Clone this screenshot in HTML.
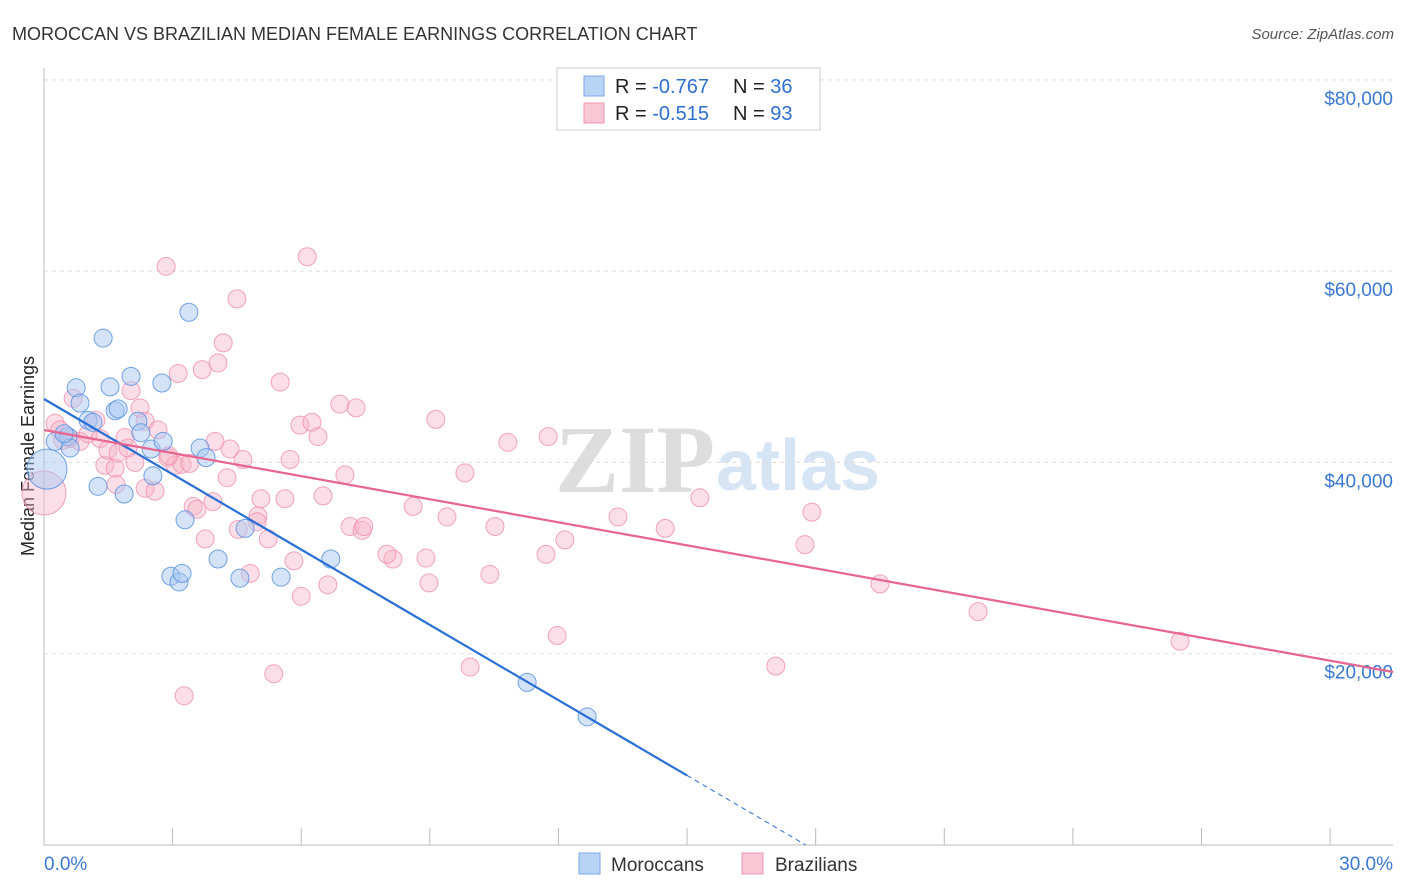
<!DOCTYPE html>
<html><head><meta charset="utf-8"><style>
body{margin:0;background:#fff;font-family:"Liberation Sans",sans-serif}
svg{display:block}
</style></head><body>
<svg id="c" width="1406" height="892">
<text x="12" y="40" font-size="18" fill="#333">MOROCCAN VS BRAZILIAN MEDIAN FEMALE EARNINGS CORRELATION CHART</text>
<text x="1394" y="39" font-size="15" fill="#555" font-style="italic" text-anchor="end">Source: ZipAtlas.com</text>
<text x="34" y="456" font-size="18" fill="#222" text-anchor="middle" transform="rotate(-90 34 456)">Median Female Earnings</text>
<text x="555" y="492" font-size="96" fill="#ddd" font-family="Liberation Serif" font-weight="bold">ZIP</text>
<text x="716" y="490" font-size="72" fill="#d6e4f4" font-weight="bold">atlas</text>
<g id="grid"></g><g id="pts"></g><g id="lines"></g>
<g>
<rect x="557" y="68" width="263" height="62" fill="#fff" stroke="#ccc"/>
<rect x="584" y="76" width="20" height="20" fill="#b9d3f5" stroke="#7aa7e6"/>
<rect x="584" y="103" width="20" height="20" fill="#f9c6d5" stroke="#ef95b3"/>
<text x="615" y="93" font-size="20" fill="#222">R = <tspan fill="#2f6fd0">-0.767</tspan><tspan x="733">N = </tspan><tspan fill="#2f6fd0">36</tspan></text>
<text x="615" y="120" font-size="20" fill="#222">R = <tspan fill="#2f6fd0">-0.515</tspan><tspan x="733">N = </tspan><tspan fill="#2f6fd0">93</tspan></text>
</g>
<g>
<rect x="579" y="853" width="21" height="21" fill="#b9d3f5" stroke="#7aa7e6"/>
<text x="611" y="871" font-size="19" fill="#333">Moroccans</text>
<rect x="742" y="853" width="21" height="21" fill="#f9c6d5" stroke="#ef95b3"/>
<text x="775" y="871" font-size="19" fill="#333">Brazilians</text>
</g>
</svg>
<script>
const yTicks=[20000,40000,60000,80000];
const yTickLabels=["$20,000","$40,000","$60,000","$80,000"];
const xTickVals=[0,3,6,9,12,15,18,21,24,27,30];
const moroccanX=[0.07,0.26,0.56,0.61,0.75,0.84,1.03,1.14,1.26,1.38,1.54,1.66,1.73,1.87,2.03,2.19,2.26,2.50,2.54,2.75,2.78,3.38,3.29,2.96,3.15,3.22,3.64,3.78,4.06,4.57,4.69,5.53,6.69,11.27,12.67,0.47];
const moroccanY=[39300,42200,42700,41500,47800,46200,44400,44200,37500,53000,47900,45400,45600,36700,49000,44300,43100,41400,38600,48300,42200,55700,34000,28100,27500,28400,41500,40500,29900,27900,33100,28000,29900,17000,13400,43000];
const brazilianX=[0.0,0.26,0.37,0.44,0.61,0.68,0.84,1.03,1.21,1.31,1.42,1.49,1.66,1.73,1.89,1.96,2.03,2.12,2.24,2.36,2.36,2.59,2.66,2.85,2.89,3.06,3.13,3.22,3.40,3.48,3.57,3.69,3.76,3.94,3.99,4.06,4.18,4.27,4.34,4.50,4.53,4.64,4.81,4.99,5.06,5.23,5.51,5.62,5.74,5.83,5.97,6.14,6.25,6.39,6.51,6.62,6.90,7.02,7.14,7.28,7.42,7.46,8.14,8.61,8.91,8.98,9.14,9.40,9.82,9.94,10.40,10.52,10.82,11.71,11.76,11.97,12.15,13.39,14.49,15.30,17.07,17.75,17.91,19.50,21.79,26.50,5.36,3.27,1.68,2.91,4.97,8.00,6.00];
const brazilianY=[36800,44100,43400,42300,42500,46700,42200,43000,44400,42500,39700,41300,39400,41000,42600,41500,47500,40000,45700,44300,37300,37000,43400,60500,40500,39700,49300,39800,39900,35400,35100,49700,32000,35900,42200,50400,52500,38400,41400,57100,33000,40300,28400,34400,36200,32000,48400,36200,40300,29700,43900,61500,44200,42700,36500,27200,46100,38700,33300,45700,32900,33300,29900,35400,30000,27400,44500,34300,38900,18600,28300,33300,42100,30400,42700,21900,31900,34300,33100,36300,18700,31400,34800,27300,24400,21300,17900,15600,37700,40700,33800,30400,26000];
const blueLine={intercept:46630,slope:-2624,solidEnd:15};
const pinkLine={intercept:43388,slope:-804,end:31.47};
const X=v=>44+v*42.87, Y=v=>845-v/104.55;
const NS="http://www.w3.org/2000/svg";
function mk(t,a,p){const e=document.createElementNS(NS,t);for(const k in a)e.setAttribute(k,a[k]);p.appendChild(e);return e;}
const g=document.getElementById('grid');
yTicks.forEach((v,i)=>{
 const l=mk('line',{x1:44,x2:1393,y1:Y(v),y2:Y(v),stroke:'#ddd','stroke-dasharray':'4,4'},g);
 
 
 const t=mk('text',{x:1393,y:Y(v)+25,'font-size':19,fill:'#3a78d4','text-anchor':'end'},g);
 t.textContent=yTickLabels[i];
 
 
});
const ax=mk('line',{x1:44,x2:1393,y1:845,y2:845,stroke:'#bbb'},g);


const ay=mk('line',{x1:44,x2:44,y1:68,y2:845,stroke:'#bbb'},g);


xTickVals.forEach(v=>{
 const l=mk('line',{x1:X(v),x2:X(v),y1:828,y2:845,stroke:'#bbb'},g);
 
 
});
[[0,'0.0%','start',44],[30,'30.0%','end',1393]].forEach(d=>{
 const t=mk('text',{x:d[3],y:870,'font-size':19,fill:'#3a78d4','text-anchor':d[2]},g);
 t.textContent=d[1];
 
 
});
const P=document.getElementById('pts');
brazilianX.forEach((x,i)=>{
 const r=i===0?22:9;
 const c=mk('circle',{cx:X(x),cy:Y(brazilianY[i]),r:r,fill:'#f7b6ca','fill-opacity':0.45,stroke:'#ef8fb0','stroke-opacity':0.8},P);
 
 
});
moroccanX.forEach((x,i)=>{
 const r=i===0?20:9;
 const c=mk('circle',{cx:X(x),cy:Y(moroccanY[i]),r:r,fill:'#a9c8f2','fill-opacity':0.5,stroke:'#5a93e0','stroke-opacity':0.85},P);
 
 
});
const L=document.getElementById('lines');
const x0=-(blueLine.intercept)/blueLine.slope;
const bl=mk('line',{x1:X(0),y1:Y(blueLine.intercept),x2:X(blueLine.solidEnd),y2:Y(blueLine.intercept+blueLine.slope*blueLine.solidEnd),stroke:'#2a6fd6','stroke-width':2.2},L);


const bd=mk('line',{x1:X(blueLine.solidEnd),y1:Y(blueLine.intercept+blueLine.slope*blueLine.solidEnd),x2:X(x0),y2:Y(0),stroke:'#2a6fd6','stroke-width':1,'stroke-dasharray':'5,4'},L);


const pl=mk('line',{x1:X(0),y1:Y(pinkLine.intercept),x2:X(pinkLine.end),y2:Y(pinkLine.intercept+pinkLine.slope*pinkLine.end),stroke:'#e8658f','stroke-width':2.2},L);


</script>
</body></html>
